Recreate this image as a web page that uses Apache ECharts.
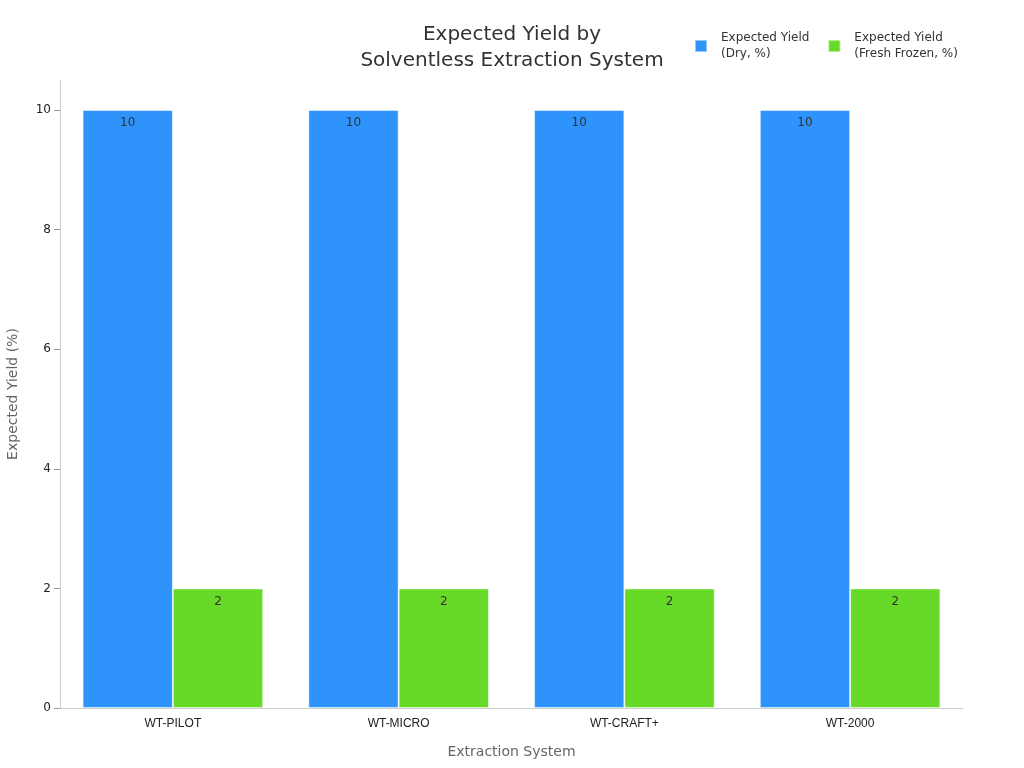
<!DOCTYPE html>
<html>
<head>
<meta charset="utf-8">
<script src="https://cdn.jsdelivr.net/npm/echarts@6/dist/echarts.min.js"></script>
<style>
  html, body { margin: 0; padding: 0; background: #fff; }
  #main { width: 1024px; height: 768px; }
</style>
</head>
<body>
<div id="main"></div>
<script>
// data
var systems = ['WT-PILOT', 'WT-MICRO', 'WT-CRAFT+', 'WT-2000'];
var dryYield = [10, 10, 10, 10];
var frozenYield = [2, 2, 2, 2];
var yTicks = [0, 2, 4, 6, 8, 10];

var myChart = echarts.init(document.getElementById('main'));

var labelStyle = {
    show: true,
    position: 'insideTop',
    distance: 7,
    color: '#333',
    fontSize: 12,
    fontFamily: 'DejaVu Sans'
};

var option = {
    backgroundColor: '#fff',
    title: {
        text: 'Expected Yield by\nSolventless Extraction System',
        left: 'center',
        top: 17,
        textStyle: {
            fontFamily: 'DejaVu Sans',
            fontSize: 20,
            fontWeight: 'normal',
            color: '#333',
            lineHeight: 26
        }
    },
    legend: {
        data: ['Expected Yield\n(Dry, %)', 'Expected Yield\n(Fresh Frozen, %)'],
        left: 689,
        top: 25,
        itemWidth: 12,
        itemHeight: 12,
        itemGap: 18,
        icon: 'rect',
        textStyle: {
            fontFamily: 'DejaVu Sans',
            fontSize: 12,
            color: '#333',
            lineHeight: 16,
            padding: [0, 0, 0, 9]
        }
    },
    grid: {
        left: 60,
        right: 61,
        top: 80,
        bottom: 60,
        outerBoundsMode: 'none'
    },
    xAxis: {
        type: 'category',
        data: systems,
        name: 'Extraction System',
        nameLocation: 'middle',
        nameGap: 37,
        nameTextStyle: { fontFamily: 'DejaVu Sans', fontSize: 14, color: '#666' },
        axisLine: { lineStyle: { color: '#ccc' } },
        axisTick: { alignWithLabel: true, lineStyle: { color: '#999' } },
        axisLabel: { color: '#222', fontSize: 12, fontFamily: 'Liberation Sans', margin: 10 }
    },
    yAxis: {
        type: 'value',
        min: 0,
        max: 10.5,
        name: 'Expected Yield (%)',
        nameLocation: 'middle',
        nameGap: 40,
        nameTextStyle: { fontFamily: 'DejaVu Sans', fontSize: 14, color: '#666' },
        axisLine: { show: true, lineStyle: { color: '#ccc' } },
        axisTick: { show: true, length: 6, customValues: yTicks, lineStyle: { color: '#999' } },
        axisLabel: { customValues: yTicks, color: '#222', fontSize: 12, fontFamily: 'DejaVu Sans', margin: 9 },
        splitLine: { show: false }
    },
    series: [
        {
            name: 'Expected Yield\n(Dry, %)',
            type: 'bar',
            data: dryYield,
            barWidth: '40%',
            barGap: '0%',
            itemStyle: { color: '#2E93FA', borderColor: 'rgba(255,255,255,0.5)', borderWidth: 1 },
            label: labelStyle
        },
        {
            name: 'Expected Yield\n(Fresh Frozen, %)',
            type: 'bar',
            data: frozenYield,
            barWidth: '40%',
            itemStyle: { color: '#66DA26', borderColor: 'rgba(255,255,255,0.5)', borderWidth: 1 },
            label: labelStyle
        }
    ]
};

if (option && typeof option === 'object') {
    myChart.setOption(option, true);
}
</script>
</body>
</html>
